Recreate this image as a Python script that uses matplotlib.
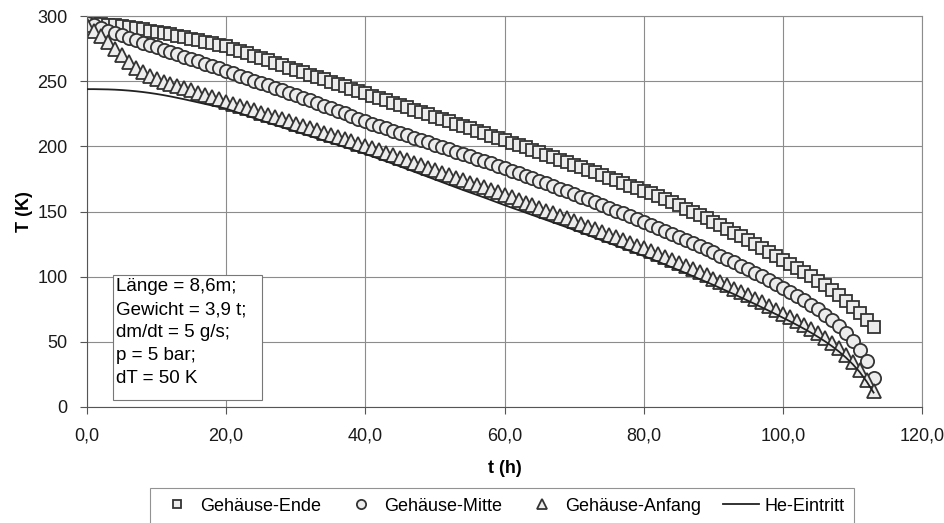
import numpy as np
import matplotlib
matplotlib.use("Agg")
import matplotlib.pyplot as plt
from matplotlib.patches import Rectangle
from matplotlib.ticker import FuncFormatter

plt.rcParams['font.family'] = ['Liberation Sans', 'DejaVu Sans']

# time axis, one reading per hour
t_h = np.arange(0, 114, 1.0)

gehaeuse_ende = [
    295, 294.6, 294.2, 293.6, 293, 292.2, 291.4, 290.6, 289.8, 288.9,
    288, 287, 286, 285, 284, 282.8, 281.6, 280.4, 279.2, 278,
    276.8, 275.0, 273.2, 271.4, 269.6, 267.8, 266.0, 264.2, 262.4, 260.6,
    258.8, 257.0, 255.2, 253.4, 251.6, 249.8, 248.0, 246.2, 244.4, 242.6,
    240.8, 239.0, 237.2, 235.4, 233.6, 231.8, 230.0, 228.2, 226.4, 224.6,
    222.8, 221.0, 219.2, 217.4, 215.6, 213.8, 212.0, 210.2, 208.4, 206.6,
    204.8, 203.0, 201.2, 199.4, 197.5, 195.6, 193.7, 191.8, 189.9, 188.0,
    186.0, 184.0, 182.0, 180.0, 178.0, 176.0, 174.0, 172.0, 170.0, 168.0,
    166.0, 163.9, 161.7, 159.4, 157.1, 154.7, 152.3, 149.8, 147.3, 144.7,
    142.1, 139.4, 136.7, 133.9, 131.1, 128.2, 125.3, 122.3, 119.3, 116.2,
    113.1, 110.0, 107.0, 103.8, 100.5, 97.0, 93.4, 89.6, 85.6, 81.4,
    77.0, 72.2, 67.0, 61.5]

gehaeuse_mitte = [
    295, 293, 291, 289, 287, 285.2, 283.4, 281.6, 279.8, 278,
    276.2, 274.4, 272.6, 270.8, 269, 267.2, 265.4, 263.6, 261.8, 260,
    258.2, 256.3, 254.4, 252.5, 250.6, 248.7, 246.8, 244.9, 243.0, 241.1,
    239.2, 237.3, 235.4, 233.4, 231.4, 229.4, 227.4, 225.4, 223.4, 221.4,
    219.4, 217.6, 215.8, 214.0, 212.2, 210.4, 208.6, 206.8, 205.0, 203.2,
    201.4, 199.6, 197.8, 196.0, 194.2, 192.4, 190.6, 188.8, 187.0, 185.1,
    183.2, 181.3, 179.4, 177.5, 175.6, 173.6, 171.6, 169.6, 167.6, 165.6,
    163.5, 161.4, 159.3, 157.2, 155.1, 153.0, 150.8, 148.6, 146.4, 144.2,
    142.0, 139.8, 137.6, 135.3, 133.0, 130.7, 128.4, 126.0, 123.6, 121.2,
    118.7, 116.2, 113.6, 111.0, 108.4, 105.7, 103.0, 100.2, 97.4, 94.5,
    91.6, 88.5, 85.3, 82.0, 78.5, 74.8, 70.8, 66.5, 61.8, 56.5,
    50.5, 44.0, 35.0, 22.0]

gehaeuse_anfang = [
    293, 289, 285, 280, 275, 270, 265, 260.5, 257, 254,
    251.5, 249.5, 247.8, 246.2, 244.6, 243, 241.3, 239.6, 237.9, 236.2,
    234.5, 232.8, 231.1, 229.4, 227.7, 226.0, 224.3, 222.6, 220.9, 219.2,
    217.5, 215.8, 214.1, 212.4, 210.7, 209.0, 207.3, 205.6, 203.9, 202.2,
    200.5, 198.7, 196.9, 195.1, 193.2, 191.3, 189.4, 187.5, 185.6, 183.7,
    181.8, 179.9, 178.0, 176.1, 174.2, 172.3, 170.4, 168.5, 166.6, 164.7,
    162.8, 160.8, 158.8, 156.8, 154.8, 152.8, 150.8, 148.8, 146.8, 144.8,
    142.7, 140.6, 138.5, 136.4, 134.3, 132.2, 130.1, 128.0, 125.9, 123.8,
    121.7, 119.5, 117.3, 115.0, 112.7, 110.4, 108.1, 105.7, 103.3, 100.9,
    98.4, 95.9, 93.4, 90.8, 88.2, 85.6, 82.9, 80.2, 77.4, 74.6,
    71.7, 69.0, 66.2, 63.2, 60.1, 56.8, 53.2, 49.3, 45.0, 40.2,
    34.8, 28.5, 20.5, 12.0]

he_eintritt = [
    244, 244, 243.9, 243.8, 243.6, 243.3, 242.9, 242.4, 241.8, 241.1,
    240.3, 239.4, 238.4, 237.3, 236.2, 235.0, 233.8, 232.6, 231.4, 230.2,
    229.0, 227.2, 225.4, 223.6, 221.8, 220.0, 218.2, 216.5, 214.8, 213.1,
    211.4, 209.7, 208.0, 206.3, 204.6, 202.9, 201.2, 199.5, 197.8, 196.0,
    194.2, 192.3, 190.4, 188.5, 186.6, 184.6, 182.6, 180.6, 178.6, 176.6,
    174.6, 172.6, 170.6, 168.6, 166.6, 164.7, 162.8, 160.9, 158.9, 156.9,
    154.9, 153.0, 151.1, 149.2, 147.3, 145.4, 143.5, 141.6, 139.7, 137.8,
    135.8, 133.8, 131.8, 129.8, 127.8, 125.8, 123.8, 121.8, 119.8, 117.8,
    115.8, 113.7, 111.6, 109.4, 107.2, 105.0, 102.8, 100.5, 98.2, 95.9,
    93.6, 91.2, 88.8, 86.4, 83.9, 81.4, 78.9, 76.3, 73.7, 71.1,
    68.4, 65.7, 62.9, 60.0, 57.0, 53.8, 50.4, 46.7, 42.6, 38.0,
    32.8, 26.8, 19.5, 11.0]

info_lines = ["Länge = 8,6m;", "Gewicht = 3,9 t;", "dm/dt = 5 g/s;",
              "p = 5 bar;", "dT = 50 K"]

fig = plt.figure(figsize=(9.45, 5.23), dpi=100)
ax = fig.add_axes([0.092, 0.222, 0.884, 0.747])

edge = '#333333'
face = '#ececec'
mk = dict(linestyle='none', markeredgecolor=edge, markerfacecolor=face,
          markeredgewidth=1.3)
ax.plot(t_h, gehaeuse_ende, marker='s', markersize=9, label='Gehäuse-Ende', **mk)
ax.plot(t_h, gehaeuse_mitte, marker='o', markersize=9.5, label='Gehäuse-Mitte', **mk)
ax.plot(t_h, gehaeuse_anfang, marker='^', markersize=10, label='Gehäuse-Anfang', **mk)
ax.plot(t_h, he_eintritt, color='#222222', lw=1.3, label='He-Eintritt', zorder=5)

ax.set_xlim(0, 120)
ax.set_ylim(0, 300)
ax.set_xticks(np.arange(0, 121, 20))
ax.set_yticks(np.arange(0, 301, 50))
ax.xaxis.set_major_formatter(FuncFormatter(lambda v, p: f"{v:.1f}".replace('.', ',')))
ax.grid(True, color='#8c8c8c', lw=0.8)
ax.set_axisbelow(True)
for s in ax.spines.values():
    s.set_color('#8c8c8c')
    s.set_linewidth(0.8)
ax.spines['left'].set_color('#555555')
ax.spines['bottom'].set_color('#555555')
ax.tick_params(direction='out', length=5, width=0.8, color='#555555',
               labelsize=13, colors='#1a1a1a')
ax.tick_params(axis='x', pad=10)
ax.tick_params(axis='y', pad=9)
ax.set_xlabel('t (h)', fontsize=13, fontweight='bold', labelpad=11)
ax.set_ylabel('T (K)', fontsize=13, fontweight='bold', labelpad=3)

# parameter box
ax.add_patch(Rectangle((0.031, 0.018), 0.178, 0.320, transform=ax.transAxes,
                       facecolor='white', edgecolor='#777777', lw=0.8, zorder=9))
ax.text(0.035, 0.329, "\n".join(info_lines), transform=ax.transAxes,
        fontsize=13.5, va='top', ha='left', linespacing=1.45, zorder=10)

leg = fig.legend(loc='upper center', bbox_to_anchor=(0.531, 0.066),
                 ncol=4, fontsize=13, frameon=True, fancybox=False,
                 handlelength=2.0, handletextpad=0.3, columnspacing=1.2,
                 markerscale=0.7, borderpad=0.5, borderaxespad=0)
leg.get_frame().set_edgecolor('#777777')
leg.get_frame().set_linewidth(0.8)

fig.savefig('out.png', dpi=100)
